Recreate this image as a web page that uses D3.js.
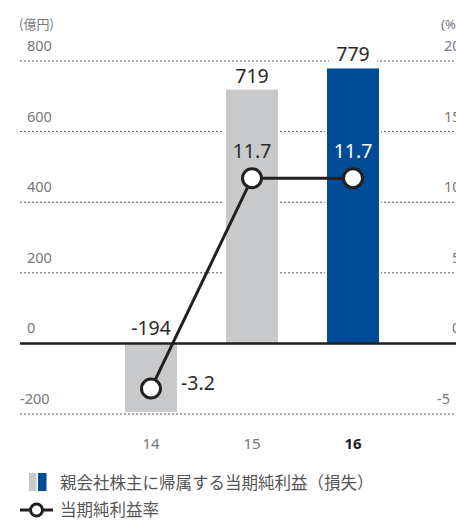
<!DOCTYPE html>
<html>
<head>
<meta charset="utf-8">
<script src="https://cdn.jsdelivr.net/npm/d3@7"></script>
<style>
  body { margin: 0; background: #fff; }
  svg { display: block; font-family: "Noto Sans", "Noto Sans CJK JP", sans-serif; }
</style>
</head>
<body>
<svg width="456" height="520"></svg>
<script>
// data
const years = ["14", "15", "16"];
const profit = [-194, 719, 779];       // 億円
const margin = [-3.2, 11.7, 11.7];     // %
const leftTicks = [-200, 0, 200, 400, 600, 800];
const rightTicks = [-5, 0, 5, 10, 15, 20];

const width = 456;
const height = 520;

const svg = d3.select("svg");

// scales
const x = d3.scalePoint().domain(years).range([151, 353]);
const yL = d3.scaleLinear().domain([-200, 800]).range([414, 61]);
const yR = d3.scaleLinear().domain([-5, 20]).range([414, 61]);
const barW = 52;

const barColor = (d, i) => i === years.length - 1 ? "#004c97" : "#c8c9cb";

// dashed gridlines
svg.append("g")
  .selectAll("line")
  .data(leftTicks.filter(d => d !== 0))
  .join("line")
  .attr("x1", 20).attr("x2", width)
  .attr("y1", d => yL(d)).attr("y2", d => yL(d))
  .attr("stroke", "#555")
  .attr("stroke-width", 1)
  .attr("stroke-dasharray", "2,2");

// left tick labels
svg.append("g")
  .selectAll("text")
  .data(leftTicks)
  .join("text")
  .attr("x", d => d < 0 ? 20 : 27)
  .attr("y", d => yL(d) - 10)
  .text(d => d)
  .style("font-size", "14.5px")
  .style("fill", "#777");

// right tick labels (cut by the page edge, as in the original)
svg.append("g")
  .selectAll("text")
  .data(rightTicks)
  .join("text")
  .attr("x", d => d < 0 ? 437 : (d >= 10 ? 444 : 452))
  .attr("y", d => yR(d) - 10)
  .text(d => d)
  .style("font-size", "14.5px")
  .style("fill", "#777");

svg.append("text").attr("x", 19).attr("y", 29).text("(億円)")
  .style("font-size", "13px").style("fill", "#777")
  .style("font-family", "'Noto Sans CJK JP', sans-serif");
svg.append("text").attr("x", 441).attr("y", 29).text("(%")
  .style("font-size", "13px").style("fill", "#777");

// white halo behind bars to cut gridlines
svg.append("g")
  .selectAll("rect")
  .data(profit)
  .join("rect")
  .attr("x", (d, i) => x(years[i]) - barW / 2 - 2)
  .attr("width", barW + 4)
  .attr("y", d => Math.min(yL(d), yL(0)))
  .attr("height", d => Math.abs(yL(d) - yL(0)))
  .attr("fill", "#fff");

// bars
svg.append("g")
  .selectAll("rect")
  .data(profit)
  .join("rect")
  .attr("x", (d, i) => x(years[i]) - barW / 2)
  .attr("width", barW)
  .attr("y", d => Math.min(yL(d), yL(0)))
  .attr("height", d => Math.abs(yL(d) - yL(0)))
  .attr("fill", barColor);

// zero line
svg.append("line")
  .attr("x1", 20).attr("x2", width)
  .attr("y1", yL(0)).attr("y2", yL(0))
  .attr("stroke", "#231f20")
  .attr("stroke-width", 2.5);

// bar value labels
const barLabels = svg.append("g")
  .selectAll("g")
  .data(profit)
  .join("g")
  .attr("transform", (d, i) => `translate(${x(years[i])},${d < 0 ? yL(0) - 8 : yL(d) - 7})`);
barLabels.filter(d => d === profit[2]).append("rect")
  .attr("x", -24).attr("y", -18).attr("width", 48).attr("height", 22)
  .attr("fill", "#fff");
barLabels.append("text")
  .attr("text-anchor", "middle")
  .text(d => d)
  .style("font-size", "19.5px")
  .style("fill", "#2a2a2a");

// net margin line
const line = d3.line()
  .x((d, i) => x(years[i]))
  .y(d => yR(d));

svg.append("path")
  .datum(margin)
  .attr("d", line)
  .attr("fill", "none")
  .attr("stroke", "#231f20")
  .attr("stroke-width", 3);

svg.append("g")
  .selectAll("circle")
  .data(margin)
  .join("circle")
  .attr("cx", (d, i) => x(years[i]))
  .attr("cy", d => yR(d))
  .attr("r", 9.5)
  .attr("fill", "#fff")
  .attr("stroke", "#231f20")
  .attr("stroke-width", 3);

// margin labels
svg.append("g")
  .selectAll("text")
  .data(margin)
  .join("text")
  .attr("x", (d, i) => d < 0 ? x(years[i]) + 30 : x(years[i]))
  .attr("y", d => d < 0 ? yR(d) + 1 : yR(d) - 20)
  .attr("text-anchor", d => d < 0 ? "start" : "middle")
  .text(d => d.toFixed(1))
  .style("font-size", "19.5px")
  .style("fill", (d, i) => i === years.length - 1 ? "#fff" : "#2a2a2a");

// x labels
svg.append("g")
  .selectAll("text")
  .data(years)
  .join("text")
  .attr("x", d => x(d))
  .attr("y", 449)
  .attr("text-anchor", "middle")
  .text(d => d)
  .style("font-size", "15px")
  .style("font-weight", (d, i) => i === years.length - 1 ? "bold" : "normal")
  .style("fill", (d, i) => i === years.length - 1 ? "#231f20" : "#777");

// legend
const legend = svg.append("g").style("font-family", "'Noto Sans CJK JP', sans-serif");
legend.append("rect").attr("x", 29).attr("y", 473).attr("width", 7.5).attr("height", 18).attr("fill", "#c8c9cb");
legend.append("rect").attr("x", 38).attr("y", 473).attr("width", 8.5).attr("height", 18).attr("fill", "#004c97");
legend.append("text").attr("x", 60).attr("y", 489)
  .text("親会社株主に帰属する当期純利益（損失）")
  .style("font-size", "16.5px").style("fill", "#555");

legend.append("line").attr("x1", 20).attr("x2", 53).attr("y1", 510).attr("y2", 510)
  .attr("stroke", "#231f20").attr("stroke-width", 3);
legend.append("circle").attr("cx", 36.5).attr("cy", 510).attr("r", 6)
  .attr("fill", "#fff").attr("stroke", "#231f20").attr("stroke-width", 3);
legend.append("text").attr("x", 60).attr("y", 516)
  .text("当期純利益率")
  .style("font-size", "16.5px").style("fill", "#555");
</script>
</body>
</html>
